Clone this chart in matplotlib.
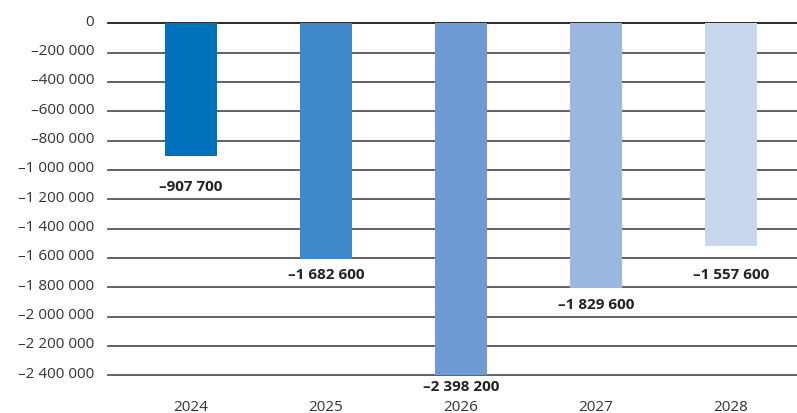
"""Bar chart of yearly negative balances, 2024-2028."""

import matplotlib
matplotlib.use("Agg")
import matplotlib.pyplot as plt
import matplotlib.transforms as mtransforms
import numpy as np

years = ["2024", "2025", "2026", "2027", "2028"]
# bar lengths as drawn in the picture
bar_values = [-906_600, -1_607_000, -2_398_200, -1_806_000, -1_516_000]
# numbers printed under the bars
label_values = [-907_700, -1_682_600, -2_398_200, -1_829_600, -1_557_600]
colors = ["#0072BC", "#4088CC", "#6E9BD2", "#9DB8E0", "#C9D7EE"]
yticks = list(range(0, -2_400_001, -200_000))


def fmt(v):
    s = f"{abs(v):,}".replace(",", " ")
    return ("\u2013" if v < 0 else "") + s


plt.rcParams["font.family"] = ["Open Sans", "DejaVu Sans"]

fig = plt.figure(figsize=(7.97, 4.14), dpi=100)
ax = fig.add_axes([108 / 797, 1 - 376.3 / 414, 1 - 108 / 797, (376.3 - 24.3) / 414])

x = np.arange(len(years))
ax.bar(x, bar_values, width=0.39, color=colors, zorder=3)

for yv in yticks:
    ax.axhline(yv, color="#1a1a1a" if yv == 0 else "#555555", lw=1.3, zorder=1, clip_on=False)

# value labels sit in the middle of the first grid band below the bar end,
# but not further down than just under the lowest grid line
step = 200_000
for xi, b, v in zip(x, bar_values, label_values):
    yc = step * np.floor((b - 30_000 + step / 2) / step) - step / 2 - 12_000
    yc = max(yc, yticks[-1] - 75_000)
    ax.text(xi, yc, fmt(v), ha="center", va="center",
            fontsize=11, fontweight="bold", color="#222222")

ax.set_xlim(-0.615, 4.489)
ax.set_ylim(-2_400_000, 0)
ax.set_yticks(yticks)
ax.set_yticklabels([fmt(v) for v in yticks])
ax.set_xticks(x)
ax.set_xticklabels(years)
ax.tick_params(axis="both", length=0, labelsize=11, labelcolor="#333333")
ax.tick_params(axis="y", pad=10)
ax.tick_params(axis="x", pad=17)

shift = mtransforms.ScaledTranslation(0, 4 / 100, fig.dpi_scale_trans)
for lab in ax.get_yticklabels():
    lab.set_transform(lab.get_transform() + shift)

for sp in ax.spines.values():
    sp.set_visible(False)

fig.savefig("out.png", dpi=100)
